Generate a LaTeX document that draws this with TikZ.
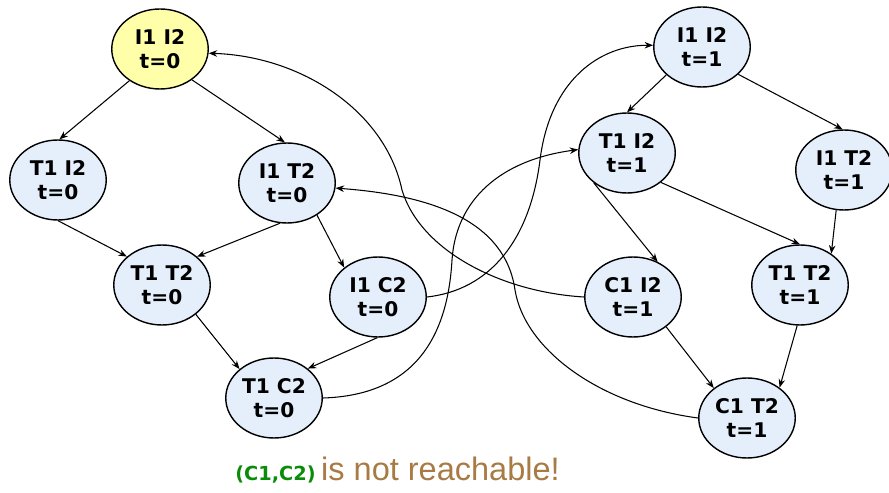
\documentclass[tikz,border=0pt]{standalone}
\usepackage{fontspec}
\setmainfont{DejaVu Sans}
\newfontfamily\notefont{Liberation Sans}
\usepackage{xcolor}
\usetikzlibrary{shapes.geometric,arrows.meta}
\definecolor{stfill}{HTML}{E4EFFB}
\definecolor{initfill}{HTML}{FFFFAA}
\definecolor{okgreen}{HTML}{0A8C0A}
\definecolor{notebrown}{HTML}{A87B45}
\tikzset{
  st/.style={ellipse,draw=black,fill=stfill,line width=0.8pt,
    minimum width=1.93cm,minimum height=1.6cm,inner sep=0pt,
    align=center,font=\bfseries\fontsize{11.5}{14}\selectfont},
  stinit/.style={st,fill=initfill},
  fl/.style={-{Stealth[length=1.7mm,width=1.3mm]},line width=0.6pt},
}

\begin{document}
\begin{tikzpicture}[x=0.02cm,y=-0.02cm]
  \useasboundingbox (0,0) rectangle (889,493);
  % time 0
  \node[stinit] (a) at (160,49) {I1 I2\\t=0};
  \node[st] (b) at (58,180) {T1 I2\\t=0};
  \node[st] (c) at (287,183) {I1 T2\\t=0};
  \node[st] (d) at (162,285) {T1 T2\\t=0};
  \node[st] (e) at (378,297) {I1 C2\\t=0};
  \node[st] (f) at (274,398) {T1 C2\\t=0};
  % time 1
  \node[st] (g) at (702,47) {I1 I2\\t=1};
  \node[st] (h) at (627,153) {T1 I2\\t=1};
  \node[st] (i) at (844,170) {I1 T2\\t=1};
  \node[st] (j) at (633,297) {C1 I2\\t=1};
  \node[st] (k) at (800,285) {T1 T2\\t=1};
  \node[st] (l) at (747,418) {C1 T2\\t=1};
  \draw[fl] (a.-134)--(b.88);
  \draw[fl] (a.-44)--(c.93);
  \draw[fl] (b.-90)--(d.141);
  \draw[fl] (c.-100)--(d.39);
  \draw[fl] (c.-47)--(e.139);
  \draw[fl] (d.-41)--(f.140);
  \draw[fl] (e.-91)--(f.41);
  \draw[fl] (g.-142)--(h.90);
  \draw[fl] (g.-37)--(i.92);
  \draw[fl] (h.-138)--(j.55);
  \draw[fl] (h.-41)--(k.90);
  \draw[fl] (i.-101)--(k.45);
  \draw[fl] (j.-42)--(l.138);
  \draw[fl] (k.-94)--(l.43);
  % crossing curves
  \draw[fl] (j.west) .. controls (500,292) and (420,250) .. (402,190)
    .. controls (385,110) and (300,56) .. (a.-5);
  \draw[fl] (e.east) .. controls (490,290) and (530,240) .. (540,160)
    .. controls (550,80) and (600,45) .. (g.178);
  \draw[fl] (f.east) .. controls (420,395) and (448,330) .. (452,260)
    .. controls (456,200) and (500,160) .. (h.176);
  \draw[fl] (l.west) .. controls (600,405) and (525,350) .. (515,290)
    .. controls (505,220) and (430,195) .. (c.-6);
  \node[anchor=base west,inner sep=0pt] (note) at (235,480)
    {\textcolor{okgreen}{\bfseries\fontsize{11}{13}\selectfont(C1,C2)}
     \textcolor{notebrown}{\notefont\fontsize{18.5}{22}\selectfont is not reachable!}};
\end{tikzpicture}
\end{document}
